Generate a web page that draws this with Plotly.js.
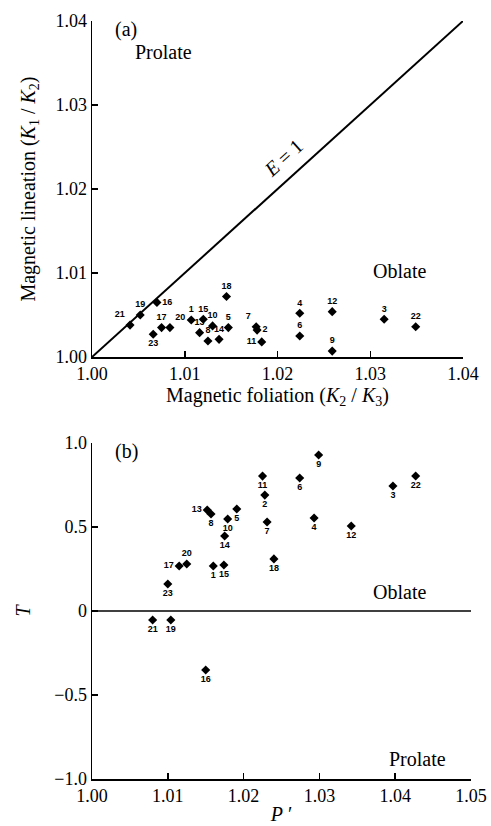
<!DOCTYPE html>
<html><head><meta charset="utf-8">
<script src="https://cdn.plot.ly/plotly-3.0.1.min.js"></script>
<style>html,body{margin:0;padding:0;background:#fff}#c{width:491px;height:826px}</style>
</head><body><div id="c"></div>
<script>
// Panel (a): magnetic foliation vs lineation
const idsA = ['21','19','16','17','20','23','1','15','10','13','8','14','5','18','7','2','11','4','6','12','9','3','22'];
const folA = [1.0041,1.0052,1.0070,1.0075,1.0084,1.0066,1.0107,1.0120,1.0130,1.0116,1.0125,1.0137,1.0147,1.0145,1.0177,1.0178,1.0183,1.0224,1.0224,1.0259,1.0259,1.0315,1.0349];
const linA = [1.0038,1.0050,1.0065,1.0035,1.0035,1.0027,1.0044,1.0045,1.0037,1.0029,1.0019,1.0021,1.0035,1.0072,1.0036,1.0032,1.0018,1.0052,1.0025,1.0054,1.0007,1.0045,1.0036];
const posA = ['top left','top center','middle right','top center','top right','bottom center','top center','top center','top center','top center','top center','top center','top center','top center','top left','middle right','middle left','top center','top center','top center','top center','top center','top center'];
const lineE = [1.00, 1.04];

// Panel (b): P' vs T
const idsB = ['13','8','5','10','14','11','2','7','6','9','4','18','17','20','1','15','23','21','19','16','3','22','12'];
const pB = [1.0152,1.0157,1.0191,1.0179,1.0175,1.0225,1.0228,1.0231,1.0274,1.0299,1.0293,1.0240,1.0115,1.0125,1.0160,1.0174,1.0100,1.0080,1.0104,1.0150,1.0397,1.0427,1.0342];
const tB = [0.601,0.577,0.607,0.548,0.446,0.803,0.690,0.530,0.792,0.929,0.554,0.310,0.268,0.280,0.268,0.274,0.161,-0.054,-0.054,-0.351,0.744,0.804,0.506];
const posB = ['middle left','bottom center','bottom center','bottom center','bottom center','bottom center','bottom center','bottom center','bottom center','bottom center','bottom center','bottom center','middle left','top center','bottom center','bottom center','bottom center','bottom center','bottom center','bottom center','bottom center','bottom center','bottom center'];
const zeroX = [1.00, 1.05];
const zeroY = [0, 0];

const tickA = [1.00,1.01,1.02,1.03,1.04];
const tickAtext = ['1.00','1.01','1.02','1.03','1.04'];
const tickBx = [1.00,1.01,1.02,1.03,1.04,1.05];
const tickBxtext = ['1.00','1.01','1.02','1.03','1.04','1.05'];
const tickBy = [-1,-0.5,0,0.5,1];
const tickBytext = ['\u22121.0','\u22120.5','0','0.5','1.0'];

const serif = 'Liberation Serif, Times New Roman, serif';
const lblFont = {family:'Liberation Sans Narrow, Liberation Sans, Arial, sans-serif', size:9, color:'#000', weight:'bold'};
const txtFont = {family:serif, size:20, color:'#000'};

const traces = [
  {x: lineE, y: lineE, mode:'lines', line:{color:'#000', width:2}, xaxis:'x', yaxis:'y', hoverinfo:'skip'},
  {x: folA, y: linA, text: idsA, textposition: posA, mode:'markers+text',
   marker:{symbol:'diamond', size:7, color:'#000'}, textfont: lblFont, cliponaxis:false, xaxis:'x', yaxis:'y'},
  {x: zeroX, y: zeroY, mode:'lines', line:{color:'#000', width:1.5}, xaxis:'x2', yaxis:'y2', hoverinfo:'skip'},
  {x: pB, y: tB, text: idsB, textposition: posB, mode:'markers+text',
   marker:{symbol:'diamond', size:7, color:'#000'}, textfont: lblFont, cliponaxis:false, xaxis:'x2', yaxis:'y2'}
];

const axBase = {showgrid:false, zeroline:false, showline:true, linecolor:'#000', linewidth:1.5,
  ticks:'inside', ticklen:6, tickwidth:1.5, tickcolor:'#000', tickfont:{family:serif, size:18, color:'#000'},
  mirror:false, automargin:false};

const layout = {
  width:491, height:826, margin:{l:0,r:0,t:0,b:0}, showlegend:false,
  paper_bgcolor:'#fff', plot_bgcolor:'#fff',
  xaxis: Object.assign({}, axBase, {domain:[92/491, 463/491], range:[1.00,1.04], tickvals:tickA, ticktext:tickAtext, anchor:'y',
    title:{text:'Magnetic foliation (<i>K</i><sub>2</sub> / <i>K</i><sub>3</sub>)', font:txtFont, standoff:3}}),
  yaxis: Object.assign({}, axBase, {domain:[1-357/826, 1-21/826], range:[1.00,1.04], tickvals:tickA, ticktext:tickAtext, anchor:'x',
    title:{text:'Magnetic lineation (<i>K</i><sub>1</sub> / <i>K</i><sub>2</sub>)', font:txtFont, standoff:14}}),
  xaxis2: Object.assign({}, axBase, {domain:[92/491, 471/491], range:[1.00,1.05], tickvals:tickBx, ticktext:tickBxtext, anchor:'y2',
    title:{text:'<i>P</i> \u2032', font:txtFont, standoff:2}}),
  yaxis2: Object.assign({}, axBase, {domain:[1-779/826, 1-443/826], range:[-1,1], tickvals:tickBy, ticktext:tickBytext, anchor:'x2',
    title:{text:'<i>T</i>', font:txtFont, standoff:18}}),
  annotations: [
    {text:'(a)', x:1.00365, y:1.0390, xref:'x', yref:'y', showarrow:false, font:txtFont},
    {text:'Prolate', x:1.00776, y:1.0363, xref:'x', yref:'y', showarrow:false, font:txtFont},
    {text:'Oblate', x:1.0332, y:1.0102, xref:'x', yref:'y', showarrow:false, font:txtFont},
    {text:'<i>E</i> = 1', x:1.0206, y:1.0237, xref:'x', yref:'y', showarrow:false, textangle:-42, font:txtFont},
    {text:'(b)', x:1.0045, y:0.95, xref:'x2', yref:'y2', showarrow:false, font:txtFont},
    {text:'Oblate', x:1.0406, y:0.113, xref:'x2', yref:'y2', showarrow:false, font:txtFont},
    {text:'Prolate', x:1.0430, y:-0.881, xref:'x2', yref:'y2', showarrow:false, font:txtFont}
  ]
};

Plotly.newPlot('c', traces, layout, {staticPlot:true, displayModeBar:false});
</script></body></html>
